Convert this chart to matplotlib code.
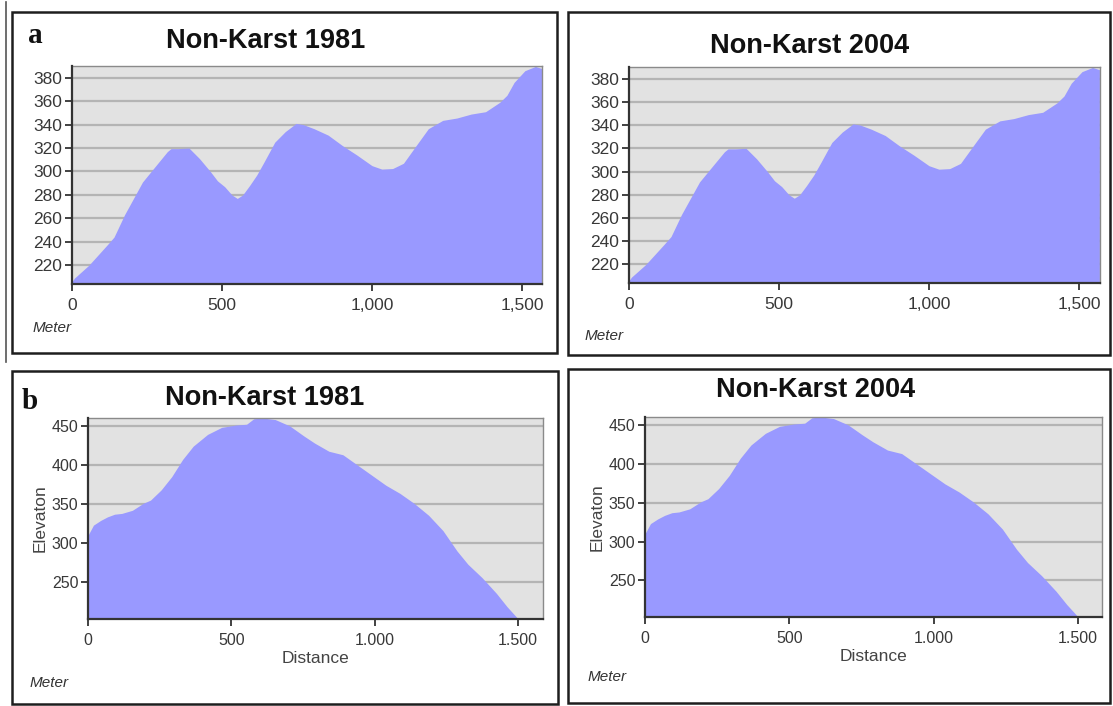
import matplotlib
matplotlib.use("Agg")
import matplotlib.pyplot as plt
from matplotlib.patches import Rectangle
from matplotlib.lines import Line2D
from matplotlib.ticker import FixedLocator

# profile a (same line for 1981 and 2004)
dist_a = [0, 8, 56, 116, 140, 175, 235, 270, 318, 330, 354, 390, 425, 461, 485,
          509, 533, 551, 569, 592, 616, 640, 676, 711, 747, 771, 807, 854, 902,
          950, 1000, 1033, 1069, 1105, 1140, 1188, 1236, 1283, 1331, 1379, 1426,
          1450, 1474, 1510, 1545, 1568]
elev_a = [206, 209, 220, 237, 244, 263, 291, 302, 317, 319.5, 319.5, 320, 311,
          300, 292, 287, 280, 277, 280, 288, 297, 308, 325, 334, 341, 340, 336.5,
          331, 322, 314, 305, 302, 302.5, 307, 319.5, 336.5, 343.6, 345.6, 349,
          351, 359, 365, 376, 386, 389.6, 387.7]

# profile b (same line for 1981 and 2004)
dist_b = [0, 19, 44, 68, 93, 118, 155, 193, 218, 255, 292, 330, 367, 417, 466,
          516, 553, 578, 609, 653, 703, 753, 790, 840, 889, 939, 989, 1039, 1088,
          1138, 1188, 1238, 1287, 1325, 1374, 1424, 1461, 1498, 1523]
elev_b = [310, 323, 329, 333.6, 337, 338, 342, 351, 355, 368, 385, 407, 424, 439,
          448, 451, 452, 459, 460, 458, 450, 437, 428, 417.5, 413, 400, 387, 374,
          363.6, 350.7, 335.6, 316, 290, 273, 256, 236, 219, 204, 202]

titles = ["Non-Karst 1981", "Non-Karst 2004", "Non-Karst 1981", "Non-Karst 2004"]
yticks_a = [220, 240, 260, 280, 300, 320, 340, 360, 380]
yticks_b = [250, 300, 350, 400, 450]
xticks = [0, 500, 1000, 1500]
xlabels_a = ["0", "500", "1,000", "1,500"]
xlabels_b = ["0", "500", "1.000", "1.500"]

W, H = 1113, 706
FILL = "#9999ff"
BG = "#e2e2e2"
GRID = "#b4b4b4"
TXT = "#383838"

plt.rcParams["font.family"] = ["Liberation Sans", "DejaVu Sans"]
fig = plt.figure(figsize=(W / 100, H / 100), dpi=100)
fig.patch.set_facecolor("white")


def px_axes(l, t, r, b):
    return fig.add_axes([l / W, 1 - b / H, (r - l) / W, (b - t) / H])


def px_box(l, t, r, b):
    fig.patches.append(Rectangle((l / W, 1 - b / H), (r - l) / W, (b - t) / H,
                                 transform=fig.transFigure, fill=False,
                                 lw=1.8, ec="#1e1e1e"))


def profile(ax, xs, ys, xlim, ylim, yticks, xlabels, lsize):
    ax.set_facecolor(BG)
    ax.fill_between(xs, ys, ylim[0], color=FILL, lw=0, zorder=2)
    ax.set_xlim(*xlim)
    ax.set_ylim(*ylim)
    ax.yaxis.set_major_locator(FixedLocator(yticks))
    ax.set_xticks(xticks)
    ax.set_xticklabels(xlabels)
    ax.grid(axis="y", color=GRID, lw=1.6, zorder=1)
    ax.set_axisbelow(True)
    for s in ["top", "right"]:
        ax.spines[s].set_color("#8a8a8a")
        ax.spines[s].set_linewidth(1.0)
    for s in ["left", "bottom"]:
        ax.spines[s].set_color("#333333")
        ax.spines[s].set_linewidth(1.6)
        ax.spines[s].set_zorder(3)
    ax.tick_params(direction="out", length=5, width=1.3, color="#333333",
                   labelcolor=TXT, labelsize=lsize)
    ax.tick_params(axis="x", pad=5)
    ax.tick_params(axis="y", pad=2)


# panel frames
px_box(12, 12, 557, 353)
px_box(568, 12, 1110, 355)
px_box(12, 371, 558, 704)
px_box(568, 369, 1110, 703)
fig.lines.append(Line2D([6 / W, 6 / W], [1 - 2 / H, 1 - 362 / H],
                        transform=fig.transFigure, color="#555555", lw=1.2))

ax1 = px_axes(72, 66, 542, 284)
profile(ax1, dist_a, elev_a, (0, 1567), (204, 390), yticks_a, xlabels_a, 12.5)
ax2 = px_axes(629, 67, 1100, 283)
profile(ax2, dist_a, elev_a, (0, 1570), (204, 390), yticks_a, xlabels_a, 12.5)
ax3 = px_axes(88, 418, 543, 619)
profile(ax3, dist_b, elev_b, (0, 1587), (203, 460), yticks_b, xlabels_b, 11.5)
ax4 = px_axes(645, 417, 1102, 617)
profile(ax4, dist_b, elev_b, (0, 1583), (203, 460), yticks_b, xlabels_b, 11.5)

for ax in (ax3, ax4):
    ax.set_ylabel("Elevaton", color="#444444", fontsize=12.5, labelpad=3)
    ax.set_xlabel("Distance", color="#444444", fontsize=12.5, labelpad=2)

# titles
for (cx, base), t in zip([(266, 48), (810, 53), (265, 405), (816, 397)], titles):
    fig.text(cx / W, 1 - base / H, t, ha="center", va="baseline",
             fontsize=19.5, fontweight="bold", color="#111111")

# panel letters
fig.text(28 / W, 1 - 43 / H, "a", family="Liberation Serif", fontweight="bold",
         fontsize=21, va="baseline", color="#111111")
fig.text(22 / W, 1 - 409 / H, "b", family="Liberation Serif", fontweight="bold",
         fontsize=21, va="baseline", color="#111111")

# unit notes
for (x, y) in [(33, 328), (585, 336), (30, 683), (588, 677)]:
    fig.text(x / W, 1 - y / H, "Meter", fontsize=11, style="italic",
             color="#333333", va="center")

fig.savefig("out.png", dpi=100)
